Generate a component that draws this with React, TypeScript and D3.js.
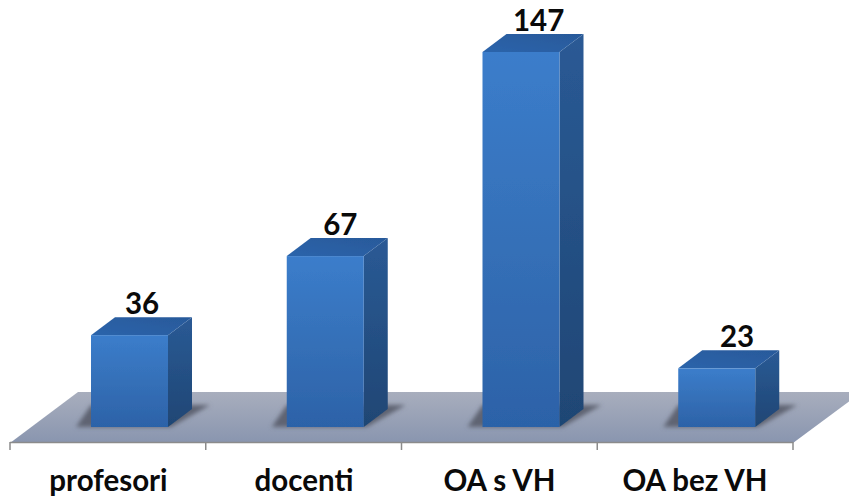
import React from "react";
import * as d3 from "d3";

const categories = ["profesori", "docenti", "OA s VH", "OA bez VH"];
const values = [36, 67, 147, 23];

const W = 849, H = 498;
const FONT = "Lato, Carlito, 'Open Sans', sans-serif";
const baseY = 427;
const depthX = 24, depthY = 18;
const barW = 77;

const y = d3.scaleLinear().domain([0, 147]).range([baseY, 52]);
const band = d3.scaleBand<string>().domain(categories).range([10, 793]).padding(0);
const tickXs = d3.range(5).map((i) => 10 + i * band.step());
const labelX = d3.scalePoint<string>().domain(categories).range([142, 737]);
const catX = d3.scalePoint<string>().domain(categories).range([108.5, 695]);

const poly = (pts: number[][]) => "M" + pts.map((p) => p.join(",")).join("L") + "Z";

export default function App() {
  return (
    <svg width={W} height={H} viewBox={`0 0 ${W} ${H}`} style={{ position: "absolute", left: 0, top: 0, background: "#fff" }}>
      <defs>
        <linearGradient id="floor" x1="0" y1="0" x2="0" y2="1">
          <stop offset="0" stopColor="#a8aebd" />
          <stop offset="1" stopColor="#8995af" />
        </linearGradient>
        <linearGradient id="front" x1="0" y1="0" x2="0" y2="1">
          <stop offset="0" stopColor="#3b7dcb" />
          <stop offset="0.5" stopColor="#3570b8" />
          <stop offset="1" stopColor="#2c62a8" />
        </linearGradient>
        <linearGradient id="side" x1="0" y1="0" x2="0" y2="1">
          <stop offset="0" stopColor="#2a5a95" />
          <stop offset="1" stopColor="#1f4674" />
        </linearGradient>
        <linearGradient id="top" x1="0" y1="1" x2="1" y2="0">
          <stop offset="0" stopColor="#2b64ab" />
          <stop offset="1" stopColor="#28599a" />
        </linearGradient>
        <filter id="blur" x="-20%" y="-50%" width="140%" height="200%">
          <feGaussianBlur stdDeviation="2.2" />
        </filter>
        <filter id="soft" x="-5%" y="-5%" width="110%" height="110%">
          <feGaussianBlur stdDeviation="0.7" />
        </filter>
      </defs>

      <path d={poly([[10, 443], [793, 443], [862, 392], [78, 392]])} fill="url(#floor)" />
      <line x1={10} x2={793} y1={442.5} y2={442.5} stroke="#8b8b8b" strokeWidth={1.5} />
      {tickXs.map((t) => (
        <line key={t} x1={t} x2={t} y1={442} y2={450} stroke="#8b8b8b" strokeWidth={1.5} />
      ))}

      {categories.map((c, i) => {
        const x0 = band(c)! + 81;
        const x1 = x0 + barW;
        const yt = y(values[i]);
        return (
          <g key={c}>
            <path
              d={poly([[x0 - 15, baseY], [x1 + 3, baseY], [x1 + depthX + 18, baseY - 22], [x0, baseY - 22]])}
              fill="#5f6472"
              filter="url(#blur)"
            />
            <g filter="url(#soft)">
              <path d={poly([[x1, yt], [x1 + depthX, yt - depthY], [x1 + depthX, baseY - depthY], [x1, baseY]])} fill="url(#side)" />
              <path d={poly([[x0, yt], [x0 + depthX, yt - depthY], [x1 + depthX, yt - depthY], [x1, yt]])} fill="url(#top)" />
              <rect x={x0} y={yt} width={barW} height={baseY - yt} fill="url(#front)" />
            </g>
            <text x={labelX(c)} y={yt - depthY - 3.5} textAnchor="middle" fontFamily={FONT} fontWeight={700} fontSize={29.5} fill="#0a0a0a">
              {values[i]}
            </text>
            <text x={catX(c)!} y={491} textAnchor="middle" fontFamily={FONT} fontWeight={700} fontSize={29.5} fill="#0a0a0a">
              {c}
            </text>
          </g>
        );
      })}
    </svg>
  );
}
